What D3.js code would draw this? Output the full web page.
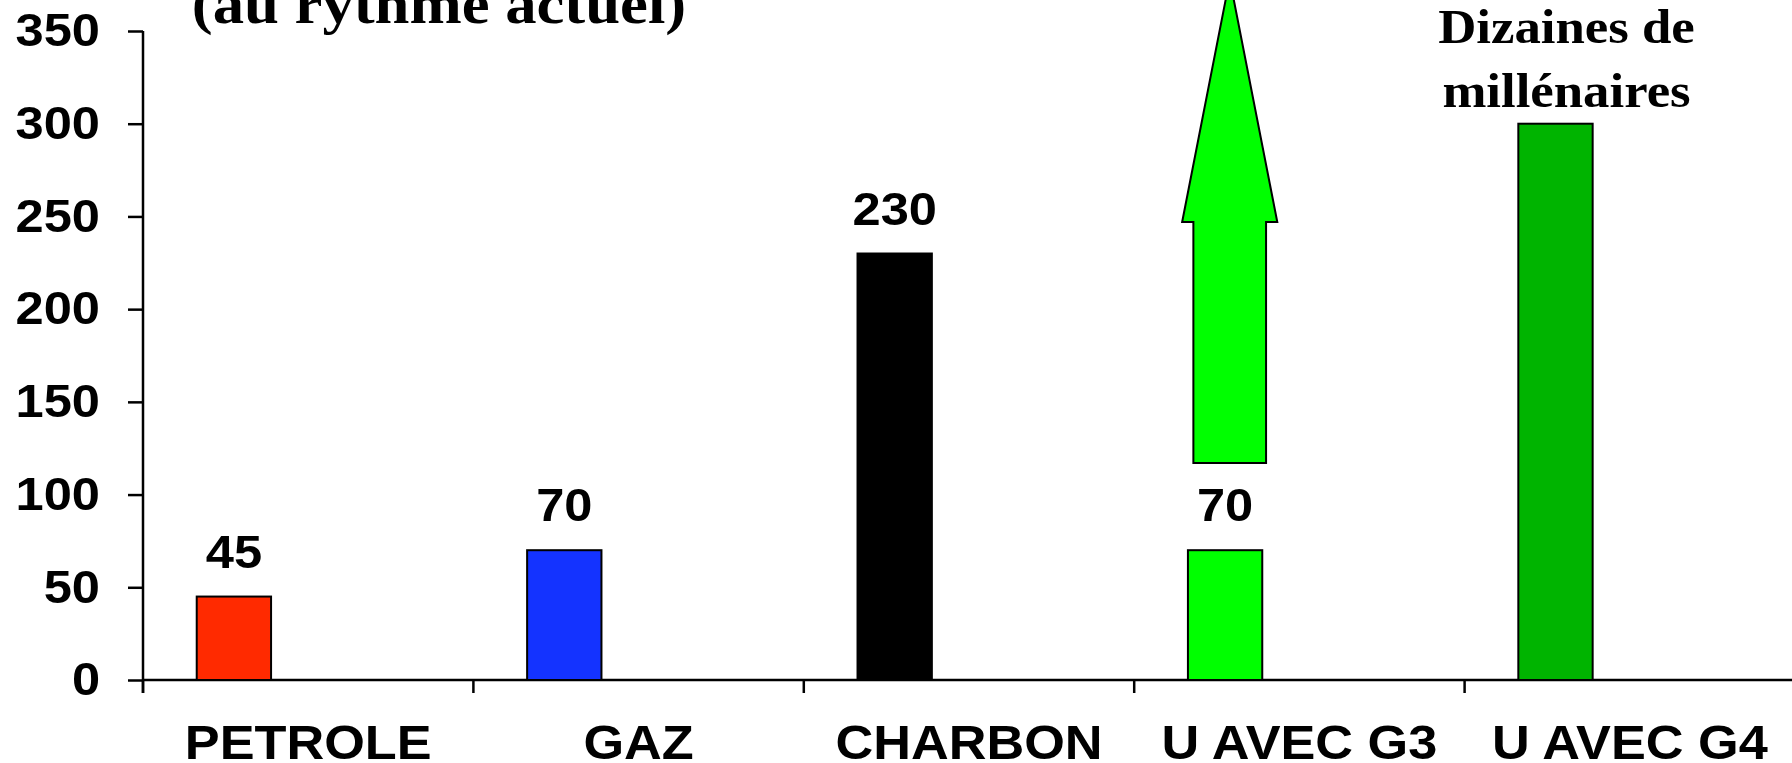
<!DOCTYPE html>
<html>
<head>
    <script src="https://d3js.org/d3.v7.min.js"></script>
    <style>
        body { margin: 0; background: #fff; overflow: hidden; }
    </style>
</head>
<body>
    <div id="chart"></div>
    <script>
        // data
        const categories = ["PETROLE", "GAZ", "CHARBON", "U AVEC G3", "U AVEC G4"];
        const values = [45, 70, 230, 70, 300];
        const valueLabels = ["45", "70", "230", "70", ""];
        const barColors = ["#ff2a00", "#1433ff", "#000000", "#00ff00", "#00b400"];
        const yTicks = [0, 50, 100, 150, 200, 250, 300, 350];
        // arrow over "U AVEC G3": base, shoulder, tip (in years)
        const arrowLevels = [117, 247, 378];
        const title = "(au rythme actuel)";
        const noteLines = ["Dizaines de", "millénaires"];

        const width = 1792, height = 763;
        const sx = 1.1; // text in the picture is a little stretched sideways
        const sans = "'Liberation Sans', Arial, sans-serif";
        const serif = "'Liberation Serif', 'Times New Roman', serif";

        const svg = d3.select("#chart")
            .append("svg")
            .attr("width", width)
            .attr("height", height);

        const x = d3.scaleBand()
            .domain(categories)
            .range([143, 1795])
            .padding(0);
        const bw = x.bandwidth();
        const barOff = bw * 0.1626, barW = bw * 0.225;

        const y = d3.scaleLinear()
            .domain([0, 350])
            .range([680, 31]);

        // Y axis
        const yAxis = svg.append("g")
            .attr("transform", "translate(143,0)")
            .call(d3.axisLeft(y).tickValues(yTicks).tickSize(15).tickPadding(28).tickSizeOuter(0));
        yAxis.select(".domain").attr("stroke", "#000").attr("stroke-width", 2.5)
            .attr("d", "M0," + y(350) + "V693");
        yAxis.selectAll(".tick line").attr("stroke", "#000").attr("stroke-width", 2.5);
        yAxis.selectAll(".tick text")
            .attr("fill", "#000")
            .style("font-family", sans)
            .style("font-weight", "bold")
            .style("font-size", "46px")
            .attr("x", -43 / sx)
            .attr("transform", "scale(" + sx + ",1)");

        // X axis: labels at band centres, ticks at band boundaries
        const xAxis = svg.append("g")
            .attr("transform", "translate(0,680)")
            .call(d3.axisBottom(x).tickSize(0).tickPadding(45).tickSizeOuter(0));
        xAxis.select(".domain").attr("stroke", "#000").attr("stroke-width", 2.5)
            .attr("d", "M143,0H" + width);
        xAxis.selectAll(".tick text")
            .attr("fill", "#000")
            .style("font-family", sans)
            .style("font-weight", "bold")
            .style("font-size", "47.5px")
            .attr("transform", "scale(" + sx + ",1)");
        xAxis.selectAll(".bound")
            .data(categories.map(c => x(c)).concat([x.range()[1]]))
            .join("line")
            .attr("class", "bound")
            .attr("x1", d => d).attr("x2", d => d)
            .attr("y1", 0).attr("y2", 13)
            .attr("stroke", "#000").attr("stroke-width", 2.5);

        // bars
        svg.append("g")
            .selectAll("rect")
            .data(categories)
            .join("rect")
            .attr("x", d => x(d) + barOff)
            .attr("y", (d, i) => y(values[i]))
            .attr("width", barW)
            .attr("height", (d, i) => y(0) - y(values[i]))
            .attr("fill", (d, i) => barColors[i])
            .attr("stroke", "#000")
            .attr("stroke-width", 2);

        // value labels
        svg.append("g")
            .selectAll("text")
            .data(categories)
            .join("text")
            .attr("transform", (d, i) => "translate(" + (x(d) + barOff + barW / 2) + "," + (y(values[i]) - 29) + ") scale(" + sx + ",1)")
            .attr("text-anchor", "middle")
            .style("font-family", sans)
            .style("font-weight", "bold")
            .style("font-size", "46px")
            .text((d, i) => valueLabels[i]);

        // upward arrow above the G3 bar
        const ac = x("U AVEC G3") + barOff + barW / 2 + bw * 0.014;
        const shaft = bw * 0.11, wing = bw * 0.144;
        const arrowPts = [
            [ac - shaft, y(arrowLevels[0])],
            [ac - shaft, y(arrowLevels[1])],
            [ac - wing, y(arrowLevels[1])],
            [ac, y(arrowLevels[2])],
            [ac + wing, y(arrowLevels[1])],
            [ac + shaft, y(arrowLevels[1])],
            [ac + shaft, y(arrowLevels[0])]
        ];
        svg.append("path")
            .attr("d", d3.line()(arrowPts) + "Z")
            .attr("fill", "#00ff00")
            .attr("stroke", "#000")
            .attr("stroke-width", 2)
            .attr("stroke-linejoin", "miter");

        // title (partly cut at the top)
        svg.append("text")
            .attr("transform", "translate(439,23) scale(" + sx + ",1)")
            .attr("text-anchor", "middle")
            .style("font-family", serif)
            .style("font-weight", "bold")
            .style("font-size", "57px")
            .text(title);

        // note above G4
        svg.append("g")
            .selectAll("text")
            .data(noteLines)
            .join("text")
            .attr("transform", (d, i) => "translate(1566.5," + (43.3 + i * 63.4) + ") scale(" + sx + ",1)")
            .attr("text-anchor", "middle")
            .style("font-family", serif)
            .style("font-weight", "bold")
            .style("font-size", "48px")
            .text(d => d);
    </script>
</body>
</html>
